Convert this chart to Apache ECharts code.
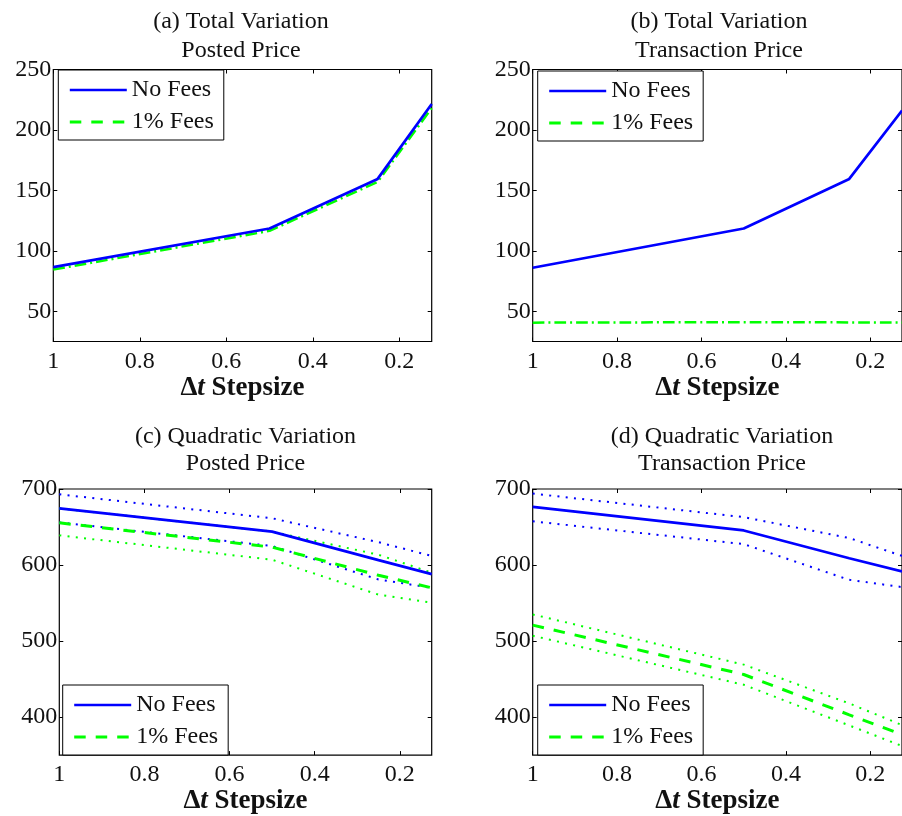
<!DOCTYPE html>
<html>
<head>
<meta charset="utf-8">
<script src="https://cdn.jsdelivr.net/npm/echarts@6/dist/echarts.min.js"></script>
<style>
html,body{margin:0;padding:0;background:#fff;}
#chart{width:902px;height:816px;}
</style>
</head>
<body>
<div id="chart"></div>
<script>
// x values (Δt stepsize)
const xVals = [1, 0.5, 0.25, 0.125];
const xTickVals = [1, 0.8, 0.6, 0.4, 0.2];
const tvTickVals = [50, 100, 150, 200, 250];
const qvTickVals = [400, 500, 600, 700];

// (a) Total Variation, Posted Price
const tvPostedNoFees = [86.5, 118.5, 159.5, 221.5];
const tvPostedFees   = [84.5, 116.5, 157, 218];
// (b) Total Variation, Transaction Price
const tvTransNoFees  = [86, 118.5, 159.5, 216];
const tvTransFees    = [40.6, 41, 40.8, 40.7];
// (c) Quadratic Variation, Posted Price
const qvPostedNoFees   = [674.5, 644, 606.5, 588];
const qvPostedNoFeesUp = [693, 661.5, 630, 612];
const qvPostedNoFeesLo = [656, 625, 581, 570];
const qvPostedFees     = [655.5, 623.5, 586.5, 570];
const qvPostedFeesUp   = [674.5, 644, 613.5, 590];
const qvPostedFeesLo   = [639, 607, 561, 550.5];
// (d) Quadratic Variation, Transaction Price
const qvTransNoFees   = [676.5, 645.5, 609, 591.5];
const qvTransNoFeesUp = [694, 663, 635.5, 612];
const qvTransNoFeesLo = [657.5, 627.5, 580.5, 571];
const qvTransFees     = [521, 456, 403, 377];
const qvTransFeesUp   = [535, 469, 418, 389.5];
const qvTransFeesLo   = [507, 442.5, 389, 362];

const titles = [
  '(a) Total Variation\nPosted Price',
  '(b) Total Variation\nTransaction Price',
  '(c) Quadratic Variation\nPosted Price',
  '(d) Quadratic Variation\nTransaction Price'
];

const FONT = 'Liberation Serif';
const BLUE = '#0000ff';
const GREEN = '#00ff00';
const TXT = '#111';

const grids = [
  {left: 53.3, top: 69.5, width: 378.4, height: 272},
  {left: 532.7, top: 69.5, width: 378, height: 272},
  {left: 59.3, top: 489, width: 372.4, height: 269.5},
  {left: 532.7, top: 489, width: 375, height: 269.5}
];

const pair = arr => xVals.map((x, i) => [x, arr[i]]);

const solid = {color: BLUE, width: 2.7, type: 'solid'};
const dashed = {color: GREEN, width: 3, type: [11.5, 10]};
const dashdot = {color: GREEN, width: 2.5, type: [11.7, 4, 2, 4]};
const dotB = {color: BLUE, width: 2, type: [2, 6.3]};
const dotG = {color: GREEN, width: 2, type: [2, 6.3]};

function line(name, gi, data, style, z) {
  const s = {
    type: 'line', xAxisIndex: gi * 2, yAxisIndex: gi * 2,
    data: pair(data), symbol: 'none', showSymbol: false, lineStyle: style,
    itemStyle: {color: style.color}, animation: false, silent: true, z: z || 2
  };
  if (name) s.name = name;
  return s;
}

const series = [
  // (c)
  line('No Fees', 2, qvPostedNoFees, solid, 5),
  line('1% Fees', 2, qvPostedFees, dashed, 4),
  line(null, 2, qvPostedNoFeesUp, dotB, 3),
  line(null, 2, qvPostedNoFeesLo, dotB, 3),
  line(null, 2, qvPostedFeesUp, dotG, 3),
  line(null, 2, qvPostedFeesLo, dotG, 3),
  // (d)
  line('No Fees', 3, qvTransNoFees, solid, 5),
  line('1% Fees', 3, qvTransFees, dashed, 4),
  line(null, 3, qvTransNoFeesUp, dotB, 3),
  line(null, 3, qvTransNoFeesLo, dotB, 3),
  line(null, 3, qvTransFeesUp, dotG, 3),
  line(null, 3, qvTransFeesLo, dotG, 3),
  // (a)
  line('1% Fees', 0, tvPostedFees, dashdot, 3),
  line('No Fees', 0, tvPostedNoFees, solid, 4),
  // (b)
  line('1% Fees', 1, tvTransFees, dashdot, 3),
  line('No Fees', 1, tvTransNoFees, solid, 4)
];

const xAxes = [], yAxes = [];
grids.forEach((g, gi) => {
  const isTV = gi < 2;
  const yTicks = isTV ? tvTickVals : qvTickVals;
  const yMin = isTV ? 25 : 350, yMax = isTV ? 250 : 700;
  const common = {
    gridIndex: gi, type: 'value', min: 0.125, max: 1, inverse: true,
    splitLine: {show: false}, axisLine: {show: false}
  };
  xAxes.push(Object.assign({}, common, {
    position: 'bottom',
    axisTick: {inside: true, length: 4, customValues: xTickVals, lineStyle: {color: '#000'}},
    axisLabel: {customValues: xTickVals, margin: 8, color: TXT, fontFamily: FONT, fontSize: 24,
      formatter: v => String(Math.round(v * 10) / 10)},
    name: '{d|Δ}{t|t}{sp| }{s|Stepsize}', nameLocation: 'middle', nameGap: 29,
    nameTextStyle: {
      color: TXT,
      rich: {
        d: {fontFamily: FONT, fontSize: 27, fontWeight: 'bold', color: TXT},
        t: {fontFamily: FONT, fontSize: 27, fontStyle: 'italic', fontWeight: 'bold', color: TXT},
        sp: {fontFamily: FONT, fontSize: 27, color: TXT},
        s: {fontFamily: FONT, fontSize: 27, fontWeight: 'bold', color: TXT}
      }
    }
  }));
  xAxes.push(Object.assign({}, common, {
    position: 'top',
    axisTick: {inside: true, length: 4, customValues: xTickVals, lineStyle: {color: '#000'}},
    axisLabel: {show: false}
  }));
  const ycommon = {
    gridIndex: gi, type: 'value', min: yMin, max: yMax,
    splitLine: {show: false}, axisLine: {show: false}
  };
  yAxes.push(Object.assign({}, ycommon, {
    position: 'left',
    axisTick: {inside: true, length: 4, customValues: yTicks, lineStyle: {color: '#000'}},
    axisLabel: {customValues: yTicks, margin: 2, color: TXT, fontFamily: FONT, fontSize: 24}
  }));
  yAxes.push(Object.assign({}, ycommon, {
    position: 'right',
    axisTick: {inside: true, length: 4, customValues: yTicks, lineStyle: {color: '#000'}},
    axisLabel: {show: false}
  }));
});

const titleCfg = [
  {x: 241, top: 7.5, lh: 29},
  {x: 719, top: 7.5, lh: 29},
  {x: 245.5, top: 423.5, lh: 27},
  {x: 722, top: 423.5, lh: 27}
];
const title = titles.map((t, i) => ({
  text: t, left: titleCfg[i].x, top: titleCfg[i].top, textAlign: 'center', padding: 0,
  textStyle: {fontFamily: FONT, fontSize: 24, fontWeight: 'normal', color: TXT, lineHeight: titleCfg[i].lh}
}));

const legendPos = [
  {left: 58.3, top: 70},
  {left: 537.7, top: 71},
  {left: 62.7, top: 685},
  {left: 537.7, top: 685}
];
const legend = legendPos.map(p => ({
  left: p.left, top: p.top, orient: 'vertical',
  data: [
    {name: 'No Fees', itemStyle: {opacity: 0}, lineStyle: {type: 'solid', width: 2.7, color: BLUE}},
    {name: '1% Fees', itemStyle: {opacity: 0}, lineStyle: {type: [11.5, 10], width: 3, color: GREEN}}
  ],
  itemStyle: {opacity: 0, borderWidth: 0},
  itemWidth: 57, itemHeight: 14, itemGap: 8,
  padding: [8, 10, 6, 10],
  borderColor: '#000', borderWidth: 1, backgroundColor: '#fff',
  selectedMode: false,
  textStyle: {fontFamily: FONT, fontSize: 24, color: TXT, lineHeight: 24}
}));

const chart = echarts.init(document.getElementById('chart'), null, {renderer: 'canvas'});
chart.setOption({
  backgroundColor: '#fff',
  animation: false,
  title: title,
  legend: legend,
  grid: grids.map(g => Object.assign({show: true, borderColor: '#000', borderWidth: 1.2, backgroundColor: 'transparent'}, g)),
  xAxis: xAxes,
  yAxis: yAxes,
  series: series
});
</script>
</body>
</html>
